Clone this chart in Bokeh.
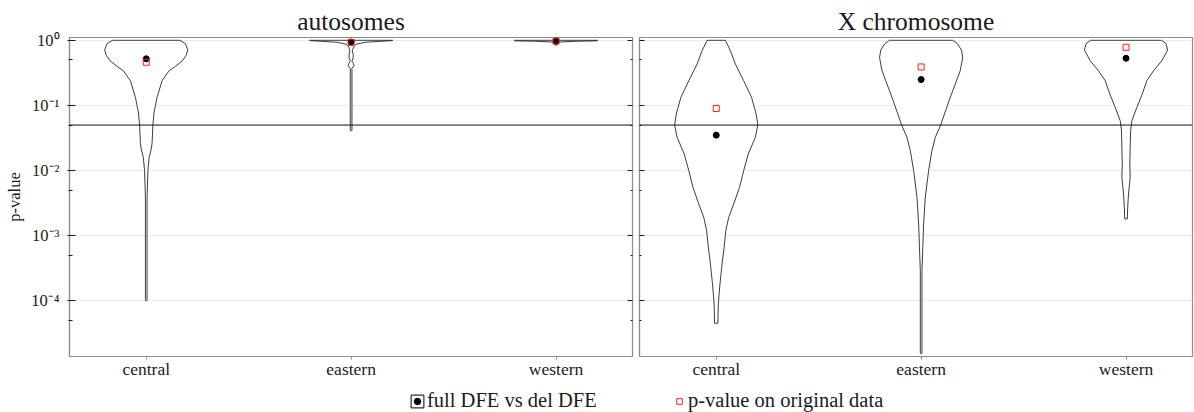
import numpy as np
from bokeh.plotting import figure
from bokeh.models import Range1d, FixedTicker, LogAxis, Span, Legend, LegendItem
from bokeh.layouts import row, column
from bokeh.embed import file_html
from bokeh.resources import INLINE

populations = ["central", "eastern", "western"]
panel_titles = ["autosomes", "X chromosome"]

# p-value of the full-DFE vs deleterious-DFE test, one per population
full_vs_del_autosomes = [0.52, 0.94, 0.98]
full_vs_del_x = [0.035, 0.25, 0.53]
# p-value computed on the original data
original_autosomes = [0.46, 0.93, 0.97]
original_x = [0.09, 0.39, 0.78]

significance = 0.05

# Violin outlines of the bootstrap p-values: log10(p) levels and relative density
auto_central_log = [0, -0.05, -0.146, -0.23, -0.314, -0.40, -0.468, -0.621, -0.877, -1.1,
                    -1.3, -1.587, -1.70, -1.797, -2.0, -2.41, -3.98, -4.0]
auto_central_dens = [0.81, 0.94, 1.0, 0.96, 0.87, 0.70, 0.55, 0.38, 0.26, 0.19,
                     0.16, 0.14, 0.11, 0.07, 0.04, 0.02, 0.02, 0.01]

auto_eastern_log = [0, -0.005, -0.015, -0.03, -0.06, -0.1, -0.16, -0.22, -0.27, -0.32,
                    -0.36, -0.39, -0.43, -0.5, -1.38, -1.39]
auto_eastern_dens = [1.0, 0.98, 0.72, 0.34, 0.12, 0.06, 0.03, 0.05, 0.05, 0.02,
                     0.06, 0.07, 0.02, 0.02, 0.02, 0.01]

auto_western_log = [0, -0.008, -0.015, -0.025, -0.035, -0.07, -0.075]
auto_western_dens = [1.0, 0.99, 0.49, 0.12, 0.04, 0.03, 0.01]

x_central_log = [0, -0.16, -0.365, -0.621, -0.877, -1.132, -1.30, -1.49, -1.745, -2.0,
                 -2.258, -2.512, -2.718, -2.922, -3.178, -3.433, -3.739, -4.046, -4.343]
x_central_dens = [0.22, 0.34, 0.46, 0.66, 0.85, 0.96, 1.0, 0.94, 0.77, 0.66,
                  0.56, 0.42, 0.30, 0.23, 0.19, 0.14, 0.09, 0.05, 0.04]

x_eastern_log = [0, -0.05, -0.15, -0.264, -0.468, -0.672, -0.877, -1.132, -1.30, -1.49,
                 -1.695, -2.0, -2.41, -2.82, -3.178, -3.536, -4.80, -4.81]
x_eastern_dens = [0.76, 0.87, 0.97, 1.0, 0.94, 0.82, 0.70, 0.56, 0.47, 0.34,
                  0.26, 0.18, 0.10, 0.06, 0.04, 0.02, 0.02, 0.01]

x_western_log = [0, -0.05, -0.15, -0.315, -0.468, -0.621, -0.825, -1.03, -1.235, -1.388,
                 -1.644, -1.9, -2.104, -2.36, -2.565, -2.742]
x_western_dens = [0.85, 0.96, 1.0, 0.86, 0.66, 0.50, 0.39, 0.26, 0.14, 0.11,
                  0.10, 0.09, 0.10, 0.06, 0.04, 0.03]

y_major = [1e-4, 1e-3, 1e-2, 1e-1, 1.0]
y_minor = [5e-5, 5e-4, 5e-3, 5e-2, 0.5]
y_labels = ["10⁻⁴", "10⁻³", "10⁻²", "10⁻¹", "10⁰"]

SERIF = "Liberation Serif"
INK = "#1a1a1a"
FRAME = "#8c8c8c"
GRID = "#ebebeb"
RED = "#ff1a1a"
HALF_WIDTH = 0.203          # maximum violin half-width, in category units
X_START = 0.6255
PX_PER_CAT = 204.9


def violin_outline(center, logs, dens):
    lv = np.asarray(logs, dtype=float)
    d = np.asarray(dens, dtype=float) * HALF_WIDTH
    ys = 10.0 ** lv
    xs = np.concatenate([center + d, (center - d)[::-1]])
    return list(xs), list(np.concatenate([ys, ys[::-1]]))


def make_panel(title, width, border_left, border_right, labelled, violins, full_vals, orig_vals):
    frame_w = width - border_left - border_right
    p = figure(width=width, height=385, title=title, y_axis_type="log",
               x_range=Range1d(X_START, X_START + frame_w / PX_PER_CAT),
               y_range=Range1d(1.4e-5, 1.104),
               output_backend="svg", toolbar_location=None,
               min_border_left=border_left, min_border_right=border_right,
               min_border_top=37, min_border_bottom=29,
               background_fill_color="white", border_fill_color="white")
    p.outline_line_color = FRAME
    p.outline_line_width = 1.2

    p.title.align = "center"
    p.title.text_font = SERIF
    p.title.text_font_size = "25.5px"
    p.title.text_font_style = "normal"
    p.title.text_color = INK
    p.title.standoff = 4

    p.xgrid.visible = False
    p.ygrid.ticker = FixedTicker(ticks=y_major)
    p.ygrid.grid_line_color = GRID
    p.ygrid.grid_line_width = 1

    positions = list(range(1, len(populations) + 1))
    xa = p.xaxis[0]
    xa.ticker = FixedTicker(ticks=positions, minor_ticks=[])
    xa.major_label_overrides = {i: name for i, name in zip(positions, populations)}
    xa.major_label_text_font = SERIF
    xa.major_label_text_font_size = "17.5px"
    xa.major_label_text_color = INK
    xa.major_label_standoff = -1
    xa.major_tick_in = 0
    xa.major_tick_out = 3
    xa.major_tick_line_color = FRAME
    xa.axis_line_color = FRAME
    xa.axis_line_width = 1.2

    ya = p.yaxis[0]
    ya.ticker = FixedTicker(ticks=y_major, minor_ticks=y_minor)
    ya.axis_line_color = FRAME
    ya.axis_line_width = 1.2
    ya.major_tick_line_color = INK
    ya.minor_tick_line_color = INK
    if labelled:
        ya.major_label_overrides = {v: t for v, t in zip(y_major, y_labels)}
        ya.major_label_text_font = SERIF
        ya.major_label_text_font_size = "16.5px"
        ya.major_label_text_color = INK
        ya.major_label_standoff = 8
        ya.major_tick_in = 6
        ya.major_tick_out = 2
        ya.minor_tick_in = 3
        ya.minor_tick_out = 1
        ya.axis_label = "p-value"
        ya.axis_label_text_font = SERIF
        ya.axis_label_text_font_size = "16.5px"
        ya.axis_label_text_font_style = "normal"
        ya.axis_label_text_color = INK
        ya.axis_label_standoff = 4
        # mirrored ticks on the right edge
        ra = LogAxis(ticker=FixedTicker(ticks=y_major, minor_ticks=y_minor),
                     major_label_overrides={v: "" for v in y_major},
                     major_label_text_font_size="0px", major_label_standoff=0,
                     major_tick_in=5, major_tick_out=0, minor_tick_in=2, minor_tick_out=0,
                     major_tick_line_color=INK, minor_tick_line_color=INK,
                     axis_line_color=None)
        p.add_layout(ra, "right")
    else:
        ya.major_label_overrides = {v: "" for v in y_major}
        ya.major_label_text_font_size = "0px"
        ya.major_label_standoff = 0
        ya.major_tick_in = 5
        ya.major_tick_out = 0
        ya.minor_tick_in = 2
        ya.minor_tick_out = 0

    xs_all, ys_all = [], []
    for pos, (logs, dens) in zip(positions, violins):
        xs, ys = violin_outline(pos, logs, dens)
        xs_all.append(xs)
        ys_all.append(ys)
    p.patches(xs_all, ys_all, fill_color="white", line_color="#262626", line_width=0.9)

    p.add_layout(Span(location=significance, dimension="width",
                      line_color="#111111", line_width=1))

    p.scatter(positions, full_vals, marker="circle", size=6, color="black")
    p.scatter(positions, orig_vals, marker="square", size=6,
              fill_color=None, line_color=RED, line_width=1)
    return p


left = make_panel(panel_titles[0], 636, 69, 4, True,
                  [(auto_central_log, auto_central_dens),
                   (auto_eastern_log, auto_eastern_dens),
                   (auto_western_log, auto_western_dens)],
                  full_vs_del_autosomes, original_autosomes)
right = make_panel(panel_titles[1], 558, 3, 2, False,
                   [(x_central_log, x_central_dens),
                    (x_eastern_log, x_eastern_dens),
                    (x_western_log, x_western_dens)],
                   full_vs_del_x, original_x)

# Legend strip below both panels; the key renderers sit outside the visible range
lg = figure(width=1194, height=27, x_range=Range1d(0, 1), y_range=Range1d(0, 1),
            output_backend="svg", toolbar_location=None,
            x_axis_location=None, y_axis_location=None, min_border=0,
            background_fill_color="white", border_fill_color="white")
lg.outline_line_color = None
lg.grid.visible = False
key_box = lg.quad(left=[5], right=[6], top=[6], bottom=[5], fill_color=None,
                  line_color="black", line_width=1)
key_dot = lg.scatter(x=[5], y=[5], marker="circle", size=6, color="black")
key_sq = lg.scatter(x=[5], y=[5], marker="square", size=6, fill_color=None,
                    line_color=RED, line_width=1)

legend_style = dict(border_line_color=None, background_fill_alpha=0, padding=0, margin=0,
                    spacing=0, label_text_font=SERIF, label_text_font_size="20.5px",
                    label_text_color=INK, label_standoff=2)
leg1 = Legend(items=[LegendItem(label="full DFE vs del DFE", renderers=[key_box, key_dot])],
              location=(409, 0), glyph_width=16, glyph_height=16, **legend_style)
leg2 = Legend(items=[LegendItem(label="p-value on original data", renderers=[key_sq])],
              location=(672, 0), glyph_width=14, glyph_height=14, **legend_style)
lg.add_layout(leg1)
lg.add_layout(leg2)

layout = column(row(left, right), lg)
open("out.html", "w").write(file_html(layout, INLINE))
